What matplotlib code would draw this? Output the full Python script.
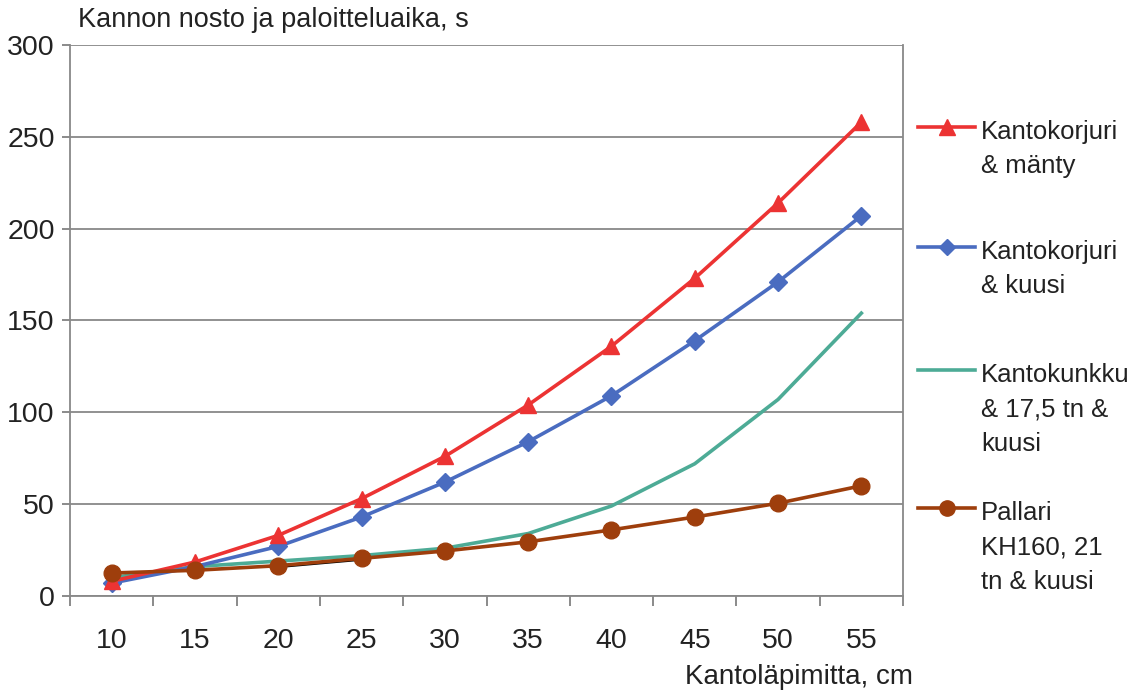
import numpy as np
import matplotlib.pyplot as plt
from matplotlib.lines import Line2D

plt.rcParams['font.family'] = ['Liberation Sans', 'DejaVu Sans']

diam = [10, 15, 20, 25, 30, 35, 40, 45, 50, 55]
manty = [8, 18.5, 33, 53, 76, 104, 136, 173, 214, 258]
kuusi = [7, 16, 27, 43, 62, 84, 109, 139, 171, 207]
kunkku = [10, 16, 19, 22, 26, 34, 49, 72, 107, 154]
pallari = [12.5, 14, 16.5, 20.5, 24.5, 29.5, 36, 43, 50.5, 60]
black_x = [20, 25]
black_y = [16, 20]

names = ['Kantokorjuri\n& mänty', 'Kantokorjuri\n& kuusi',
         'Kantokunkku\n& 17,5 tn &\nkuusi', 'Pallari\nKH160, 21\ntn & kuusi']
colors = ['#ec3333', '#4a6cc0', '#4dab96', '#9e3e0c']
markers = ['^', 'D', None, 'o']
msizes = [12, 9, 0, 12]
series = [manty, kuusi, kunkku, pallari]

fig = plt.figure(figsize=(11.48, 6.95), dpi=100)
ax = fig.add_axes([70/1148, 1-596/695, (903-70)/1148, (596-45)/695])

ax.plot(black_x, black_y, color='black', lw=2.2, zorder=2)
order = [2, 3, 1, 0]
for i in order:
    ax.plot(diam, series[i], color=colors[i], lw=2.6, marker=markers[i],
            markersize=msizes[i], zorder=3 + (i == 3))

ax.set_xlim(7.5, 57.5)
ax.set_ylim(0, 300)
ax.set_yticks(range(0, 301, 50))
ax.set_xticks(diam)
ax.set_xticks(np.arange(7.5, 58, 5), minor=True)
ax.tick_params(axis='x', which='major', length=0, pad=23, labelsize=20.5,
               labelcolor='#222222')
ax.tick_params(axis='x', which='minor', length=7, width=1.2, color='#777777',
               direction='out')
ax.tick_params(axis='y', length=6, width=1.2, color='#777777', pad=5,
               labelsize=20.5, labelcolor='#222222')
ax.yaxis.grid(True, color='#888888', lw=1.3)
ax.set_axisbelow(True)
for s in ['left', 'bottom', 'right']:
    ax.spines[s].set_color('#888888')
    ax.spines[s].set_linewidth(1.3)
ax.spines['top'].set_visible(False)

fig.text(78/1148, 1-20/695, 'Kannon nosto ja paloitteluaika, s', fontsize=19.5,
         color='#222222', va='center', ha='left')
fig.text(913/1148, 1-677/695, 'Kantoläpimitta, cm', fontsize=20,
         color='#222222', va='center', ha='right')

# legend drawn by hand so the handle sits at the first text line
leg_y = [127, 247, 370, 508]
for i in range(4):
    yy = 1 - leg_y[i]/695
    fig.add_artist(Line2D([918/1148, 975/1148], [yy, yy], color=colors[i], lw=2.6,
                          transform=fig.transFigure))
    if markers[i]:
        fig.add_artist(Line2D([946.5/1148], [yy], color=colors[i], marker=markers[i],
                              markersize=msizes[i] - 1, transform=fig.transFigure))
    fig.text(981/1148, 1-(leg_y[i] - 7)/695, names[i], fontsize=18.5,
             color='#222222', va='top', ha='left', linespacing=1.55)

fig.savefig('out.png', dpi=100)
